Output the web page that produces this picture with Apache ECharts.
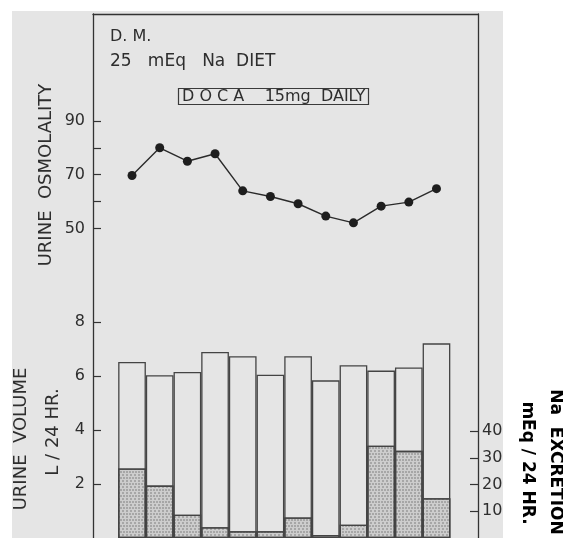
<!DOCTYPE html>
<html><head><meta charset="utf-8">
<script src="https://cdn.jsdelivr.net/npm/echarts@6/dist/echarts.min.js"></script>
<style>html,body{margin:0;padding:0;background:#fff}#c{width:563px;height:538px}</style>
</head><body><div id="c"></div>
<script>
// ---- data ----
const days = [1, 2, 3, 4, 5, 6, 7, 8, 9, 10, 11, 12];
const osmolality = [69.7, 80, 75, 77.8, 64, 61.9, 59.2, 54.6, 52.1, 58.3, 59.8, 64.8];
const urineVolume = [6.52, 6.03, 6.15, 6.89, 6.73, 6.05, 6.73, 5.84, 6.40, 6.20, 6.32, 7.21];
const naExcretion = [26, 19.6, 8.7, 4, 2.5, 2.5, 7.7, 1.1, 5, 34.5, 32.6, 14.9];
const osmTicks = [50, 60, 70, 80, 90];
const osmLabels = [50, 70, 90];
const volTicks = [2, 4, 6, 8];
const naTicks = [10, 20, 30, 40];

const INK = '#2e2e2e';
const FONT = 'DejaVu Sans';
const chart = echarts.init(document.getElementById('c'));

const txt = (x, y, s, rot, size, weight, color) => ({
  type: 'text', x: x, y: y, rotation: rot, z: 50,
  style: { text: s, fill: color || INK, font: (weight || 'normal') + ' ' + size + 'px "' + FONT + '"', align: 'center', verticalAlign: 'middle' }
});

chart.setOption({
  animation: false,
  backgroundColor: '#ffffff',
  title: [
    { text: 'D. M.', left: 110, top: 29, padding: 0, textStyle: { fontFamily: FONT, fontSize: 16, fontWeight: 'normal', color: INK } },
    { text: '25   mEq   Na  DIET', left: 110, top: 53, padding: 0, textStyle: { fontFamily: FONT, fontSize: 17, fontWeight: 'normal', color: INK } },
    { text: 'D O C A    15mg  DAILY', left: 178, top: 88, padding: [1, 4, 0, 4], borderWidth: 1.2, borderColor: '#3a3a3a',
      textStyle: { fontFamily: FONT, fontSize: 16, fontWeight: 'normal', color: INK } }
  ],
  graphic: [
    { type: 'rect', z: -10, shape: { x: 12, y: 11, width: 491, height: 530 }, style: { fill: '#e5e5e5' } },
    txt(46, 175, 'URINE  OSMOLALITY', Math.PI / 2, 18),
    txt(21, 439, 'URINE  VOLUME', Math.PI / 2, 18),
    txt(53, 432, 'L / 24 HR.', Math.PI / 2, 18),
    txt(555, 462, 'Na  EXCRETION', -Math.PI / 2, 17, 'bold', '#000'),
    txt(527, 463, 'mEq / 24 HR.', -Math.PI / 2, 17, 'bold', '#000')
  ],
  grid: { left: 93, right: 85, top: 14, bottom: -2 },
  xAxis: {
    type: 'value', position: 'top', min: -0.41, max: 13.5,
    axisLine: { show: true, onZero: false, lineStyle: { color: '#333', width: 1.3 } },
    axisTick: { show: false }, axisLabel: { show: false }, splitLine: { show: false }
  },
  yAxis: [
    {
      type: 'value', position: 'left', min: -65.07, max: 129.74,
      axisLine: { show: true, onZero: false, lineStyle: { color: '#333', width: 1.3 } },
      axisTick: { show: true, inside: true, length: 8, customValues: osmTicks, lineStyle: { color: '#333', width: 1.2 } },
      axisLabel: { show: true, customValues: osmLabels, margin: 8, fontFamily: FONT, fontSize: 16, color: INK },
      splitLine: { show: false }
    },
    {
      type: 'value', position: 'left', min: 0, max: 19.41,
      axisLine: { show: false, onZero: false },
      axisTick: { show: true, inside: true, length: 8, customValues: volTicks, lineStyle: { color: '#333', width: 1.2 } },
      axisLabel: { show: true, customValues: volTicks, margin: 8, fontFamily: FONT, fontSize: 16, color: INK },
      splitLine: { show: false }
    },
    {
      type: 'value', position: 'right', min: 0, max: 196,
      axisLine: { show: true, onZero: false, lineStyle: { color: '#333', width: 1.3 } },
      axisTick: { show: true, inside: true, length: 8, customValues: naTicks, lineStyle: { color: '#333', width: 1.2 } },
      axisLabel: { show: true, customValues: naTicks, margin: 4, fontFamily: FONT, fontSize: 16, color: INK },
      splitLine: { show: false }
    }
  ],
  series: [
    {
      name: 'Urine volume', type: 'bar', yAxisIndex: 1, barWidth: '100%', barGap: '-100%', z: 2,
      data: days.map((d, i) => [d, urineVolume[i]]),
      itemStyle: { color: 'rgba(0,0,0,0)', borderColor: '#444', borderWidth: 1.3 }
    },
    {
      name: 'Na excretion', type: 'bar', yAxisIndex: 2, barWidth: '100%', barGap: '-100%', z: 3,
      data: days.map((d, i) => [d, naExcretion[i]]),
      itemStyle: {
        color: '#cdcdcd', borderColor: '#444', borderWidth: 1.3,
        decal: { symbol: 'circle', symbolSize: 0.7, color: 'rgba(70,70,70,0.75)', dashArrayX: [[2, 1], [0, 1.5, 2, 0]], dashArrayY: [2, 1], rotation: 0 }
      }
    },
    {
      name: 'Urine osmolality', type: 'line', yAxisIndex: 0, z: 5,
      data: days.map((d, i) => [d, osmolality[i]]),
      symbol: 'circle', symbolSize: 9, showSymbol: true,
      itemStyle: { color: '#1e1e1e', borderWidth: 0 },
      lineStyle: { color: '#2a2a2a', width: 1.4 }
    }
  ]
});
</script></body></html>
